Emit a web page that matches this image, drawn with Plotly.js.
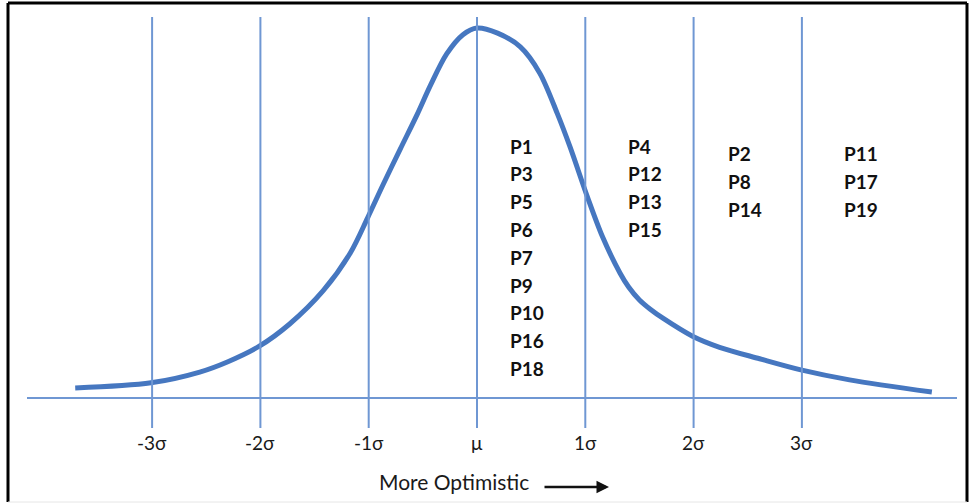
<!DOCTYPE html>
<html>
<head>
<meta charset="utf-8">
<script src="https://cdn.plot.ly/plotly-3.0.1.min.js"></script>
<style>html,body{margin:0;padding:0;background:#fff;}#chart{width:971px;height:504px;}</style>
</head>
<body>
<div id="chart"></div>
<script>
// Curve: x in sigma units, y relative height (peak = 1)
const curveX = [-3.71,-3.01,-2.56,-2.30,-2.01,-1.73,-1.42,-1.17,-1.01,-0.87,-0.71,-0.55,-0.43,-0.28,-0.13,0.0,0.19,0.40,0.58,0.74,0.86,1.02,1.16,1.32,1.40,1.50,1.60,1.72,1.99,2.24,2.61,2.99,3.44,4.20];
const curveY = [0.027,0.041,0.070,0.098,0.140,0.200,0.290,0.392,0.487,0.575,0.672,0.768,0.845,0.930,0.982,1.0,0.986,0.949,0.878,0.770,0.678,0.543,0.435,0.338,0.300,0.265,0.240,0.215,0.167,0.137,0.106,0.076,0.049,0.016];

const sigmaVals = [-3,-2,-1,0,1,2,3];
const sigmaLabels = ['-3σ','-2σ','-1σ','μ','1σ','2σ','3σ'];

const groupX = [0.29, 1.375, 2.30, 3.37];
const groups = [
  ['P1','P3','P5','P6','P7','P9','P10','P16','P18'],
  ['P4','P12','P13','P15'],
  ['P2','P8','P14'],
  ['P11','P17','P19']
];
const groupTop = [0.681, 0.681, 0.660, 0.660];

const axisTitle = 'More Optimistic';

// layout helpers (pixel geometry)
const px0 = 477, pxPerSigma = 108.3, baseY = 398, pxPerUnit = 370;
const L = 8, R = 967, T = 3, B = 502;
const xr = [(L-px0)/pxPerSigma, (R-px0)/pxPerSigma];
const yr = [(baseY-B)/pxPerUnit, (baseY-T)/pxPerUnit];
const rowStep = 27.8/pxPerUnit;

const lineColor = '#6f97d3';
const shapes = [];
sigmaVals.forEach(v => shapes.push({type:'line', xref:'x', yref:'y', x0:v, x1:v, y0:(baseY-428)/pxPerUnit, y1:(baseY-17)/pxPerUnit, line:{color:lineColor, width:2}}));
shapes.push({type:'line', xref:'x', yref:'y', x0:(27-px0)/pxPerSigma, x1:(957-px0)/pxPerSigma, y0:0, y1:0, line:{color:lineColor, width:2}});
// frame
shapes.push({type:'line', xref:'paper', yref:'paper', x0:0, x1:0, y0:0, y1:1, line:{color:'#000', width:3}});
shapes.push({type:'line', xref:'paper', yref:'paper', x0:0, x1:1, y0:1, y1:1, line:{color:'#000', width:3}});
shapes.push({type:'line', xref:'paper', yref:'paper', x0:1, x1:1, y0:0, y1:1, line:{color:'#000', width:3}});
shapes.push({type:'line', xref:'paper', yref:'paper', x0:0, x1:1, y0:0, y1:0, line:{color:'#e6e6e6', width:1}});

const annotations = [];
sigmaVals.forEach((v,i) => annotations.push({x:v, y:(baseY-442)/pxPerUnit, xref:'x', yref:'y', text:sigmaLabels[i], showarrow:false, xanchor:'center', yanchor:'middle', font:{family:'Lato, sans-serif', size:19, color:'#1a1a1a'}}));
groups.forEach((g,gi) => g.forEach((lab,ri) => annotations.push({x:groupX[gi], y:groupTop[gi]-ri*rowStep, xref:'x', yref:'y', text:'<b>'+lab+'</b>', showarrow:false, xanchor:'left', yanchor:'middle', font:{family:'Lato, sans-serif', size:19, color:'#111'}})));
annotations.push({x:(454-px0)/pxPerSigma, y:(baseY-481)/pxPerUnit, xref:'x', yref:'y', text:axisTitle, showarrow:false, xanchor:'center', yanchor:'middle', font:{family:'Lato, sans-serif', size:21, color:'#1a1a1a'}});
annotations.push({x:(609-px0)/pxPerSigma, y:(baseY-487)/pxPerUnit, xref:'x', yref:'y', ax:-66, ay:0, text:'', showarrow:true, arrowhead:2, arrowsize:1, arrowwidth:2.5, arrowcolor:'#111'});

const data = [{x:curveX, y:curveY, type:'scatter', mode:'lines', line:{color:'#4677c0', width:5, shape:'spline', smoothing:0.9}, hoverinfo:'skip'}];

const layout = {
  width:971, height:504,
  margin:{l:L, r:971-R, t:T, b:504-B, pad:0},
  paper_bgcolor:'#fff', plot_bgcolor:'#fff',
  showlegend:false,
  xaxis:{range:xr, visible:false, fixedrange:true},
  yaxis:{range:yr, visible:false, fixedrange:true},
  shapes:shapes, annotations:annotations
};
Plotly.newPlot('chart', data, layout, {displayModeBar:false, staticPlot:true});
</script>
</body>
</html>
